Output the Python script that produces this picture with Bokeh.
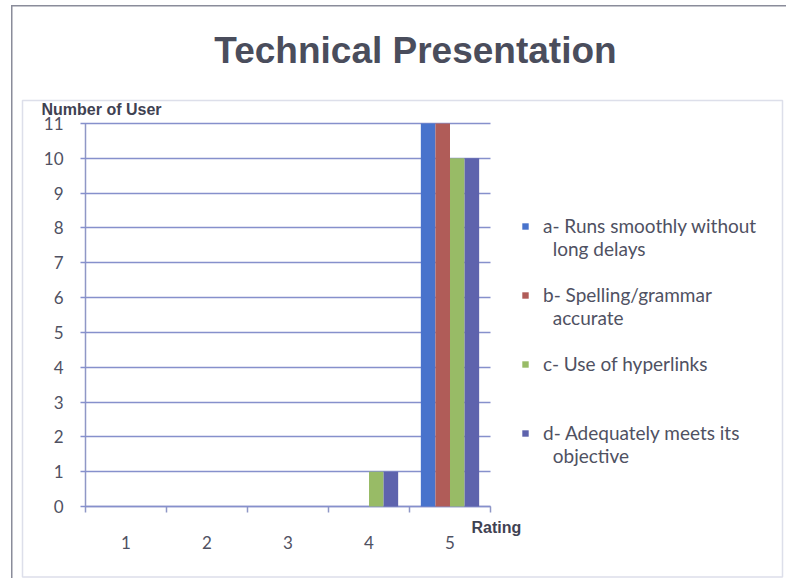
from bokeh.plotting import figure
from bokeh.models import (Range1d, FixedTicker, Legend, LegendItem, Label,
                          BoxAnnotation, ColumnDataSource)
from bokeh.transform import dodge
from bokeh.embed import file_html
from bokeh.resources import INLINE

# ---- data ----
ratings = [1, 2, 3, 4, 5]
series_names = [
    "a- Runs smoothly without\nlong delays",
    "b- Spelling/grammar\naccurate",
    "c- Use of hyperlinks",
    "d- Adequately meets its\nobjective",
]
a_vals = [0, 0, 0, 0, 11]
b_vals = [0, 0, 0, 0, 11]
c_vals = [0, 0, 0, 1, 10]
d_vals = [0, 0, 0, 1, 10]
y_ticks = list(range(0, 12))
title_text = "Technical Presentation"
y_title = "Number of User"
x_title = "Rating"

# ---- layout (pixels) ----
W, H = 786, 578
PL, PR, PT, PB = 85, 490, 123, 506     # plot-area edges on the canvas
X0, X1 = ratings[0] - 0.5, ratings[-1] + 0.5
Y0, Y1 = y_ticks[0], y_ticks[-1]
sx = (PR - PL) / (X1 - X0)
sy = (PB - PT) / (Y1 - Y0)


def dx(px):
    return X0 + (px - PL) / sx


def dy(py):
    return Y0 + (PB - py) / sy


# ---- style ----
colors = ["#4873cc", "#b05c58", "#98bb66", "#5e63ad"]
offsets = [-0.27, -0.09, 0.09, 0.27]
bar_w = 0.18
grid_col = "#8690cc"
axis_col = "#8f97c6"
text_col = "#4f5162"
INDENT = "\u00a0" * 2   # lines continuation text up with the first line

p = figure(width=W, height=H,
           x_range=Range1d(dx(0), dx(W)), y_range=Range1d(dy(H), dy(0)),
           output_backend="svg", toolbar_location=None,
           min_border=0, min_border_left=0, min_border_right=0,
           min_border_top=0, min_border_bottom=0)
p.outline_line_color = None
p.background_fill_color = "white"
p.border_fill_color = "white"
p.xgrid.visible = False
p.ygrid.visible = False

src = ColumnDataSource(dict(x=ratings, a=a_vals, b=b_vals, c=c_vals, d=d_vals))
renderers = []
for key, off, col in zip(["a", "b", "c", "d"], offsets, colors):
    r = p.vbar(x=dodge("x", off), top=key, width=bar_w, source=src,
               fill_color=col, line_color=None)
    r.level = "overlay"
    renderers.append(r)

# invisible renderer used for the legend's continuation / spacer rows
spacer = p.vbar(x="x", top=0, width=bar_w, source=src,
                fill_color="white", line_color=None)

# y axis (its inward ticks draw the horizontal grid lines of the plot area)
ya = p.yaxis[0]
ya.fixed_location = X0
ya.bounds = (Y0, Y1)
ya.ticker = FixedTicker(ticks=y_ticks)
ya.major_tick_out = 5
ya.major_tick_in = PR - PL
ya.minor_tick_out = 0
ya.minor_tick_in = 0
ya.axis_line_color = axis_col
ya.axis_line_width = 1.5
ya.major_tick_line_color = grid_col
ya.major_tick_line_width = 1.4
ya.major_label_text_font = "Lato"
ya.major_label_text_font_size = "17px"
ya.major_label_text_color = text_col
ya.major_label_standoff = 17

# x axis: labels at category centres, ticks at category boundaries
bounds = [r - 0.5 for r in ratings] + [ratings[-1] + 0.5]
xa = p.xaxis[0]
xa.fixed_location = Y0
xa.bounds = (X0, X1)
xa.ticker = FixedTicker(ticks=ratings, minor_ticks=bounds)
xa.major_tick_out = 0
xa.major_tick_in = 0
xa.minor_tick_out = 6
xa.minor_tick_in = 0
xa.minor_tick_line_color = axis_col
xa.minor_tick_line_width = 1.5
xa.axis_line_color = axis_col
xa.axis_line_width = 1.5
xa.major_label_text_font = "Lato"
xa.major_label_text_font_size = "17px"
xa.major_label_text_color = text_col
xa.major_label_standoff = 23

# legend: one row per text line, each series padded to three rows
ROWS_PER_SERIES = 3
ROW_H = 23
items = []
for name, r in zip(series_names, renderers):
    lines = name.split("\n")
    items.append(LegendItem(label=lines[0], renderers=[r]))
    for extra in lines[1:]:
        items.append(LegendItem(label=INDENT + extra, renderers=[spacer]))
    if r is not renderers[-1]:
        for _ in range(ROWS_PER_SERIES - len(lines)):
            items.append(LegendItem(label=" ", renderers=[spacer]))
legend_top = 225.5 - ROW_H / 2
legend_bottom = legend_top + ROW_H * len(items)
legend = Legend(
    items=items,
    location=(521, round(H - legend_bottom)), orientation="vertical",
    glyph_width=8, glyph_height=8, label_standoff=14, spacing=0,
    padding=0, margin=0, border_line_color=None, background_fill_alpha=0,
    label_text_font="Lato", label_text_font_size="19px", label_text_color=text_col,
    label_text_line_height=1.1, label_height=ROW_H,
)
p.add_layout(legend)

# texts
p.add_layout(Label(x=dx(415), y=dy(50), text=title_text,
                   text_font="Liberation Sans", text_font_style="bold",
                   text_font_size="37px", text_color="#4a4d5c",
                   text_align="center", text_baseline="middle"))
p.add_layout(Label(x=dx(41), y=dy(109), text=y_title,
                   text_font="Liberation Sans", text_font_style="bold",
                   text_font_size="16px", text_color="#3f4252",
                   text_align="left", text_baseline="middle"))
p.add_layout(Label(x=dx(471), y=dy(527), text=x_title,
                   text_font="Liberation Sans", text_font_style="bold",
                   text_font_size="16px", text_color="#3f4252",
                   text_align="left", text_baseline="middle"))

# frames
p.add_layout(BoxAnnotation(left=dx(22), right=dx(782), top=dy(100), bottom=dy(576.5),
                           fill_alpha=0, line_color="#8e94b8", line_width=1.5))
p.add_layout(BoxAnnotation(left=dx(10.5), right=dx(12), top=dy(5), bottom=dy(H),
                           fill_color="#8a8c9a", fill_alpha=1, line_color=None))
p.add_layout(BoxAnnotation(left=dx(10.5), right=dx(W), top=dy(4.5), bottom=dy(6),
                           fill_color="#8a8c9a", fill_alpha=1, line_color=None))

open("out.html", "w").write(file_html(p, INLINE))
